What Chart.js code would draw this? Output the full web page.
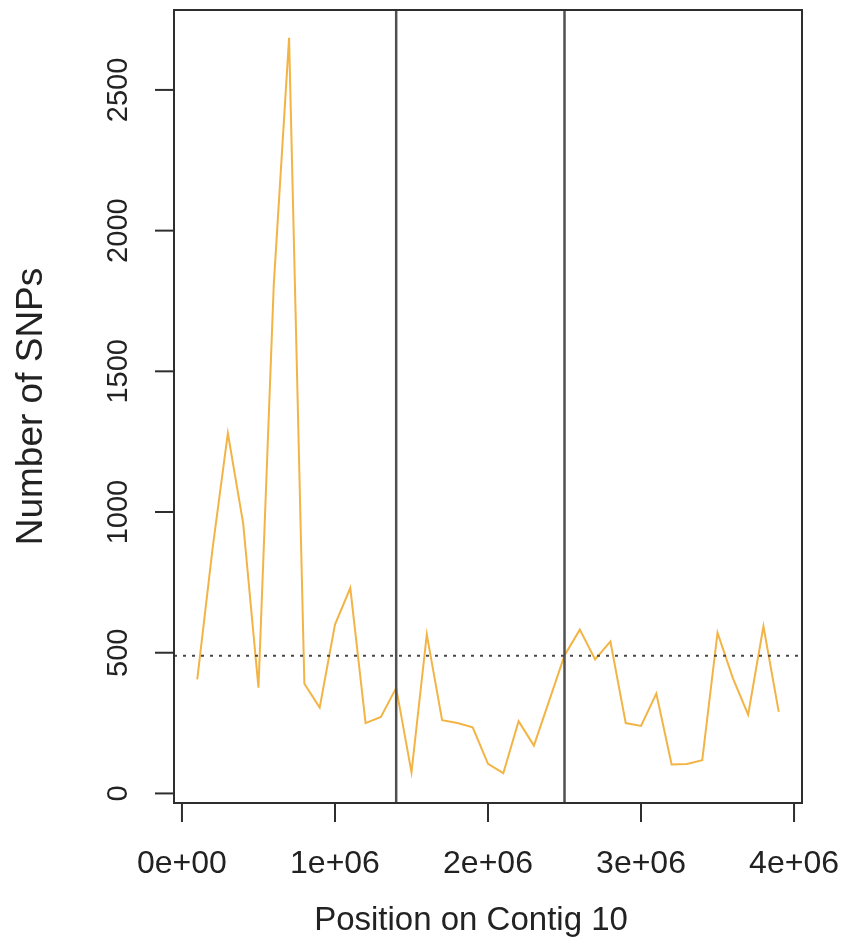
<!DOCTYPE html>
<html>
<head>
<meta charset="utf-8">
<title>Number of SNPs along Contig 10</title>
<script src="https://cdn.jsdelivr.net/npm/chart.js@4/dist/chart.umd.min.js"></script>
<style>
  html, body { margin: 0; padding: 0; background: #ffffff; }
  #wrap { width: 846px; height: 943px; }
  canvas { display: block; }
</style>
</head>
<body>
<div id="wrap"><canvas id="snpChart" width="846" height="943"></canvas></div>
<script>
// Window start positions (bp) along the contig
const positions = [
  100000, 200000, 300000, 400000, 500000, 600000, 700000, 800000, 900000, 1000000,
  1100000, 1200000, 1300000, 1400000, 1500000, 1600000, 1700000, 1800000, 1900000, 2000000,
  2100000, 2200000, 2300000, 2400000, 2500000, 2600000, 2700000, 2800000, 2900000, 3000000,
  3100000, 3200000, 3300000, 3400000, 3500000, 3600000, 3700000, 3800000, 3900000
];

// SNP count in each window
const snpCounts = [
  405, 870, 1280, 960, 376, 1808, 2685, 390, 305, 600,
  730, 250, 272, 375, 75, 565, 260, 250, 235, 105,
  72, 257, 170, 330, 490, 582, 476, 540, 250, 240,
  355, 103, 105, 118, 571, 410, 280, 594, 290
];

// Axis ticks and their labels
const xTicks = [0, 1000000, 2000000, 3000000, 4000000];
const xTickLabels = ['0e+00', '1e+06', '2e+06', '3e+06', '4e+06'];
const yTicks = [0, 500, 1000, 1500, 2000, 2500];
const yTickLabels = ['0', '500', '1000', '1500', '2000', '2500'];

// Region boundaries (vertical lines) and mean SNP count (dotted line)
const boundaries = [1400000, 2500000];
const meanSnps = 489;

const xTitle = 'Position on Contig 10';
const yTitle = 'Number of SNPs';

const FONT = '"Liberation Sans", Arial, Helvetica, sans-serif';
const TEXT_COLOR = '#222222';

// Base-graphics style frame: box, outward ticks, rotated y labels, reference lines
const basePlotFrame = {
  id: 'basePlotFrame',
  beforeDraw(chart) {
    const ctx = chart.ctx;
    ctx.save();
    ctx.fillStyle = '#ffffff';
    ctx.fillRect(0, 0, chart.width, chart.height);
    ctx.restore();
  },
  afterDatasetsDraw(chart) {
    const ctx = chart.ctx;
    const area = chart.chartArea;
    const xs = chart.scales.x;
    const ys = chart.scales.y;

    ctx.save();

    // boundary lines
    ctx.strokeStyle = '#505050';
    ctx.lineWidth = 2.5;
    boundaries.forEach(b => {
      const px = xs.getPixelForValue(b);
      ctx.beginPath();
      ctx.moveTo(px, area.top);
      ctx.lineTo(px, area.bottom);
      ctx.stroke();
    });

    // mean line (dotted)
    ctx.strokeStyle = '#484848';
    ctx.lineWidth = 2;
    ctx.setLineDash([3, 6]);
    const my = ys.getPixelForValue(meanSnps);
    ctx.beginPath();
    ctx.moveTo(area.left, my);
    ctx.lineTo(area.right, my);
    ctx.stroke();
    ctx.setLineDash([]);

    // plot box
    ctx.strokeStyle = '#2e2e2e';
    ctx.lineWidth = 2;
    ctx.strokeRect(area.left, area.top, area.right - area.left, area.bottom - area.top);

    // x ticks + labels
    ctx.strokeStyle = '#2e2e2e';
    ctx.lineWidth = 2;
    ctx.fillStyle = TEXT_COLOR;
    ctx.font = '32px ' + FONT;
    ctx.textAlign = 'center';
    ctx.textBaseline = 'alphabetic';
    xTicks.forEach((t, i) => {
      const px = xs.getPixelForValue(t);
      ctx.beginPath();
      ctx.moveTo(px, area.bottom);
      ctx.lineTo(px, area.bottom + 19);
      ctx.stroke();
      ctx.fillText(xTickLabels[i], px, 873);
    });

    // y ticks + rotated labels
    ctx.font = '29px ' + FONT;
    yTicks.forEach((t, i) => {
      const py = ys.getPixelForValue(t);
      ctx.beginPath();
      ctx.moveTo(area.left, py);
      ctx.lineTo(area.left - 19, py);
      ctx.stroke();
      ctx.save();
      ctx.translate(127, py);
      ctx.rotate(-Math.PI / 2);
      ctx.fillText(yTickLabels[i], 0, 0);
      ctx.restore();
    });

    // axis titles
    ctx.font = '33px ' + FONT;
    ctx.fillText(xTitle, 471, 930);

    ctx.font = '37px ' + FONT;
    ctx.save();
    ctx.translate(42, (area.top + area.bottom) / 2);
    ctx.rotate(-Math.PI / 2);
    ctx.fillText(yTitle, 0, 0);
    ctx.restore();

    ctx.restore();
  }
};

new Chart(document.getElementById('snpChart'), {
  type: 'line',
  data: {
    datasets: [{
      data: positions.map((p, i) => ({ x: p, y: snpCounts[i] })),
      borderColor: '#f3b446',
      borderWidth: 2,
      pointRadius: 0,
      tension: 0,
      fill: false
    }]
  },
  options: {
    responsive: false,
    animation: false,
    events: [],
    layout: { padding: { left: 174, right: 44, top: 10, bottom: 140 } },
    scales: {
      x: { type: 'linear', min: -52000, max: 4052000, display: false },
      y: { type: 'linear', min: -34, max: 2784, display: false }
    },
    plugins: {
      legend: { display: false },
      tooltip: { enabled: false }
    }
  },
  plugins: [basePlotFrame]
});
</script>
</body>
</html>
